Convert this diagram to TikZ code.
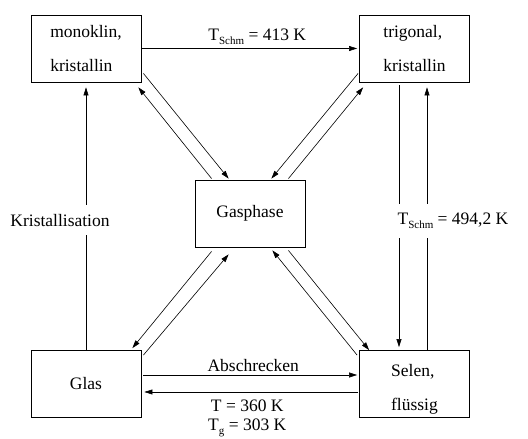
\documentclass[tikz,border=0pt]{standalone}
\usepackage{fontspec}
\setmainfont{Liberation Serif}
\usetikzlibrary{arrows.meta}
\newcommand{\tiefer}[1]{\raisebox{-4.5pt}{\fontsize{11}{11}\selectfont #1}}

\begin{document}
\begin{tikzpicture}[x=1pt,y=1pt,
    every node/.append style={font=\fontsize{17.5}{19}\selectfont},
    phase/.style={draw,line width=0.8pt,minimum width=110pt,minimum height=67pt,
        align=left,inner sep=0pt,font=\fontsize{17.5}{34}\selectfont},
    pfeil/.style={-{Triangle[length=8pt,width=5pt]},line width=0.6pt},
    lbl/.style={fill=white,inner xsep=1pt,inner ysep=9pt}]
    \useasboundingbox (0,0) rectangle (528,439);
    \node[phase] (mono) at (86,390.5) {monoklin,\\kristallin};
    \node[phase] (trig) at (414.5,390.5) {trigonal,\\kristallin};
    \node[phase] (gas) at (250,225.5) {Gasphase};
    \node[phase] (glas) at (86,55) {Glas};
    \node[phase,text height=57pt] (selen) at (414.5,55) {Selen,\\flüssig};
    \draw[pfeil,shorten <=1pt,shorten >=2pt] (mono) -- node[above,xshift=7pt] {T\tiefer{Schm} = 413 K} (trig);
    \draw[pfeil,shorten >=5pt] (glas) -- node[lbl,xshift=-26pt,yshift=-4pt] {Kristallisation} (mono);
    \draw[pfeil,shorten <=3pt,shorten >=3pt] ([xshift=-15.5pt]trig.south) -- ([xshift=-15.5pt]selen.north);
    \draw[pfeil,shorten >=5pt] ([xshift=12.5pt]selen.north) -- ([xshift=12.5pt]trig.south);
    \node[lbl] (tschm) at (453,218) {T\tiefer{Schm} = 494,2 K};
    % Gasphase
    \draw[pfeil] ([shift={(2,9)}]mono.south east) -- ([shift={(34,1)}]gas.north west);
    \draw[pfeil] ([shift={(17,1)}]gas.north west) -- ([shift={(-3,-5)}]mono.south east);
    \draw[pfeil] ([shift={(-1,9)}]trig.south west) -- ([shift={(-34,1)}]gas.north east);
    \draw[pfeil] ([shift={(-17,1)}]gas.north east) -- ([shift={(4,-5)}]trig.south west);
    \draw[pfeil] ([shift={(17,-4)}]gas.south west) -- ([shift={(-9,2)}]glas.north east);
    \draw[pfeil] ([shift={(2,-5)}]glas.north east) -- ([shift={(34,-7)}]gas.south west);
    \draw[pfeil] ([shift={(-17,-3)}]gas.south east) -- ([shift={(10,0)}]selen.north west);
    \draw[pfeil] ([shift={(-2,-5)}]selen.north west) -- ([shift={(-33,-3)}]gas.south east);
    % Glas / Selen
    \draw[pfeil,shorten <=2pt,shorten >=2pt] ([yshift=9pt]glas.east) -- node[above,xshift=3pt] {Abschrecken} ([yshift=9pt]selen.west);
    \draw[pfeil,shorten <=1pt,shorten >=3pt] ([yshift=-8pt]selen.west) -- node[below,align=center,xshift=-3pt,yshift=-4pt] {T = 360 K\\T\tiefer{g} = 303 K} ([yshift=-8pt]glas.east);
\end{tikzpicture}
\end{document}
